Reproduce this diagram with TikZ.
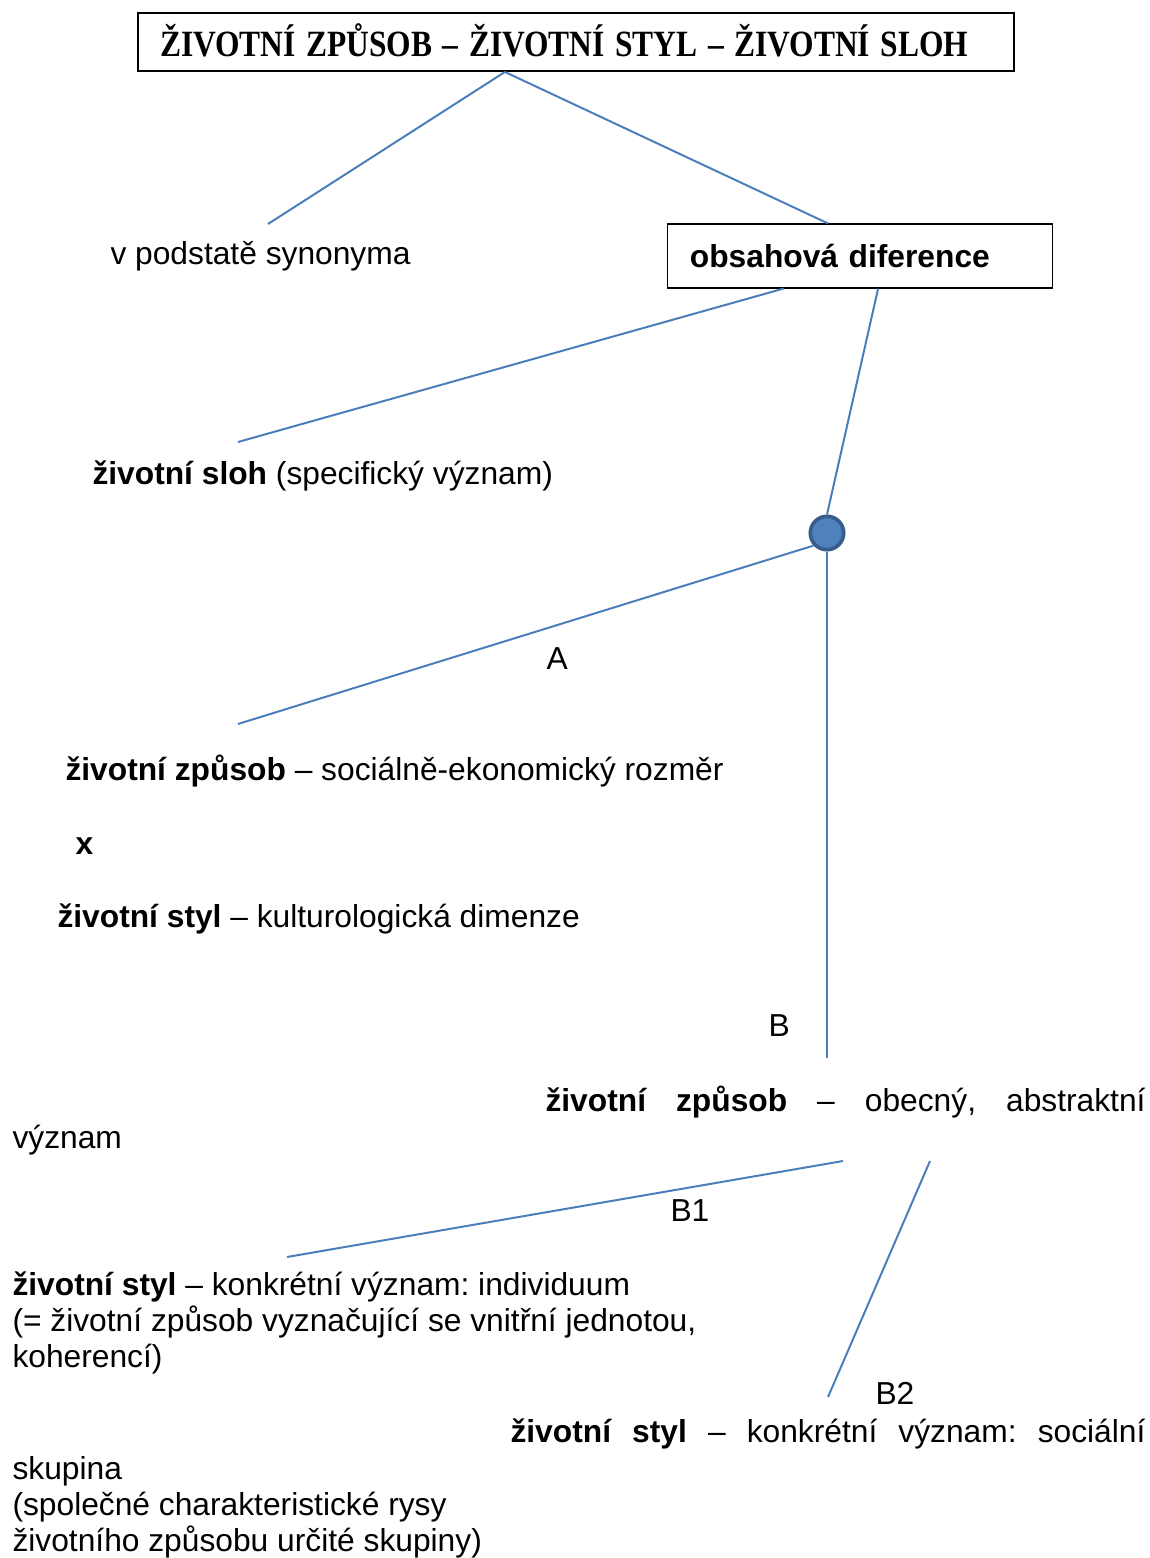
\documentclass[tikz,border=0pt]{standalone}
\usepackage{fontspec}
\usepackage{graphicx}
\setmainfont{Liberation Sans}
\newfontfamily\titlefont{Liberation Serif}
\usetikzlibrary{calc}
\definecolor{linkblue}{HTML}{4A7EBB}
\definecolor{hubfill}{HTML}{4F81BD}
\definecolor{hubdraw}{HTML}{385D8A}
\frenchspacing

\begin{document}
\begin{tikzpicture}[
    x=0.378pt, y=-0.378pt,
    txt/.style={anchor=base west, inner sep=0pt, align=left, font=\fontsize{12}{13.6}\selectfont},
    lbl/.style={txt},
    box/.style={draw, align=left, inner ysep=0pt, font=\fontsize{12}{13.6}\selectfont\bfseries},
    link/.style={draw=linkblue, line width=0.75pt},
    hub/.style={circle, fill=hubfill, draw=hubdraw, line width=1.4pt, minimum size=12.6pt, inner sep=0pt},
]
\useasboundingbox (0,0) rectangle (1150,1558);

% boxes
\node[box, line width=0.75pt, font=\titlefont\fontsize{14}{16}\selectfont\bfseries,
      minimum width=331pt, minimum height=21.9pt, text width=314.4pt, inner xsep=8.3pt]
      (title) at (576,42) {\raisebox{1.4pt}{\scalebox{0.85}[1]{ŽIVOTNÍ ZPŮSOB – ŽIVOTNÍ STYL – ŽIVOTNÍ SLOH}}};
\node[box, line width=0.4pt, minimum width=145.2pt, minimum height=24.2pt,
      text width=128.6pt, inner xsep=8.3pt] (diference) at (860,256) {obsahová diference};
\node[hub] (hub) at (827,533) {};

% texts (multi-line nodes sit on the baseline of their last line)
\node[txt] (synonyma) at (110,265) {v podstatě synonyma};
\node[txt] (sloh) at (92,485) {\textbf{životní sloh} (specifický význam)};
\node[txt] (zpusobA) at (65,780) {\textbf{životní způsob} – sociálně-ekonomický rozměr};
\node[txt] (versus) at (75,854) {\textbf{x}};
\node[txt] (stylA) at (57,927) {\textbf{životní styl} – kulturologická dimenze};
\node[txt] (zpusobB) at (545,1111) {\makebox[226.8pt][s]{\textbf{životní způsob} – obecný, abstraktní}};
\node[txt] (zpusobBb) at (12,1148) {význam};
\node[txt] (stylB1) at (12,1367) {\textbf{životní styl} – konkrétní význam: individuum\\(= životní způsob vyznačující se vnitřní jednotou,\\koherencí)};
\node[txt] (stylB2) at (510,1442) {\makebox[240pt][s]{\textbf{životní styl} – konkrétní význam: sociální}};
\node[txt] (stylB2b) at (12,1551) {skupina\\(společné charakteristické rysy\\životního způsobu určité skupiny)};

% branch labels
\node[lbl] (labA) at (546,669) {A};
\node[lbl] (labB) at (768,1036) {B};
\node[lbl] (labB1) at (670,1221) {B1};
\node[lbl] (labB2) at (875,1404) {B2};

% free ends of the connectors
\coordinate (syn-end) at (268,224);
\coordinate (sloh-end) at (238,442);
\coordinate (a-end) at (238,724);
\coordinate (b-end) at (827,1058);
\coordinate (b1-start) at (843,1161);
\coordinate (b1-end) at (287,1257);
\coordinate (b2-start) at (930,1161);
\coordinate (b2-end) at (828,1397);

\coordinate (root) at ($(title.south west)!0.419!(title.south east)$);
\draw[link] (root) -- (syn-end);
\draw[link] (root) -- ($(diference.north west)!0.417!(diference.north east)$);
\draw[link] ($(diference.south west)!0.302!(diference.south east)$) -- (sloh-end);
\draw[link] ($(diference.south west)!0.547!(diference.south east)$) -- (hub.north);
\draw[link] (hub.223) -- (a-end);
\draw[link] (hub.south) -- (b-end);
\draw[link] (b1-start) -- (b1-end);
\draw[link] (b2-start) -- (b2-end);
\end{tikzpicture}
\end{document}
